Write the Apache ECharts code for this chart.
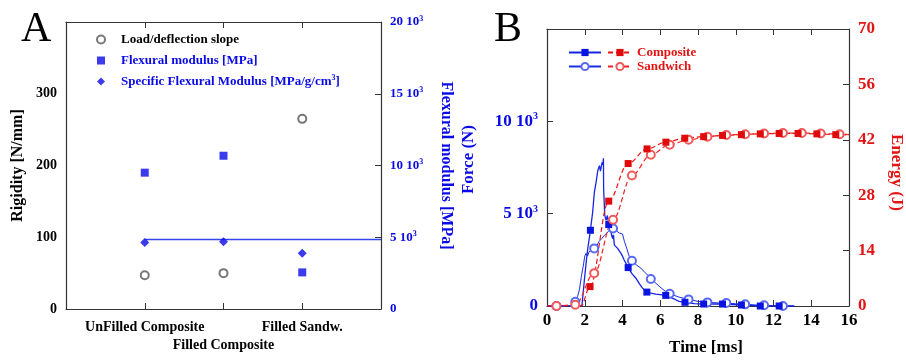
<!DOCTYPE html>
<html><head><meta charset="utf-8">
<script src="https://cdn.jsdelivr.net/npm/echarts@6/dist/echarts.min.js"></script>
<style>html,body{margin:0;padding:0;background:#fff}#c{width:906px;height:361px}</style>
</head><body><div id="c"></div>
<script>
// ---------- Panel A data ----------
const categories = ['UnFilled Composite', 'Filled Composite', 'Filled Sandw.'];
const categoryPos = [1, 2, 3];
const rigidity = [47, 50, 265];                 // N/mm (left axis)
const flexuralModulus = [9500, 10680, 2550];    // MPa (right axis)
const specificModulus = [4630, 4680, 3890];     // MPa/g/cm3 (right axis)
const refLineX = [1, 4];
const refLineY = [4840, 4840];
const rigidityTicks = [0, 100, 200, 300];
const modulusTicks = [0, 5000, 10000, 15000, 20000];

// ---------- Panel B data ----------
const compositeForceTime = [0, 1.85, 1.99, 2.1, 2.16, 2.3, 2.42, 2.51, 2.6, 2.69, 2.78, 2.83, 2.87, 2.92, 2.96, 2.99, 3.0, 3.06, 3.13, 3.2, 3.27, 3.33, 3.39, 3.43, 3.48, 3.52, 3.57, 3.65, 3.74, 3.82, 3.92, 4.0, 4.09, 4.3, 4.5, 4.71, 4.9, 5.06, 5.29, 5.5, 5.76, 6.0, 6.29, 6.5, 6.82, 7.0, 7.31, 7.8, 8.3, 8.8, 9.3, 9.8, 10.3, 10.8, 11.3, 12.3, 13.1];
const compositeForce = [0, 0, 1500, 2600, 3100, 4100, 5090, 6170, 6700, 7330, 7600, 7300, 7240, 7780, 7650, 8000, 6340, 4910, 4640, 4900, 4410, 4300, 4016, 3800, 3656, 3850, 3296, 3400, 3118, 3200, 2850, 2700, 2490, 2080, 1750, 1505, 1200, 968, 753, 700, 645, 620, 575, 480, 340, 250, 200, 130, 107, 110, 107, 80, 54, 30, 0, 0, 0];
const compositeForceMarkers = [2.3, 3.27, 4.3, 5.29, 6.29, 7.31, 8.3, 9.3, 10.3, 11.3, 12.3];

const sandwichForceTime = [0, 0.5, 1.4, 1.5, 1.62, 1.72, 1.82, 1.93, 2.0, 2.07, 2.15, 2.23, 2.35, 2.5, 2.62, 2.74, 2.9, 3.04, 3.17, 3.3, 3.5, 3.6, 3.7, 3.83, 4.0, 4.1, 4.2, 4.36, 4.5, 4.7, 4.97, 5.2, 5.41, 5.5, 5.7, 5.94, 6.2, 6.5, 7.0, 7.5, 8.0, 8.5, 9.0, 9.5, 10.0, 10.5, 11.0, 11.5, 12.0, 12.5, 13.1];
const sandwichForce = [0, 0, 0, 230, 500, 900, 1600, 2220, 2700, 2850, 2700, 2940, 3000, 3120, 3200, 3480, 3650, 3830, 3950, 4100, 4200, 4150, 4050, 3950, 3900, 3500, 3200, 2680, 2446, 2250, 2054, 1800, 1607, 1464, 1300, 1071, 850, 660, 480, 357, 250, 196, 170, 160, 120, 89, 60, 36, 15, 0, 0];
const sandwichForceMarkers = [0.5, 1.5, 2.5, 3.5, 4.5, 5.5, 6.5, 7.5, 8.5, 9.5, 10.5, 11.5, 12.5];

const compositeEnergyTime = [0, 1.8, 2.28, 3.27, 4.3, 5.3, 6.3, 7.3, 8.3, 9.3, 10.3, 11.3, 12.3, 13.3, 14.3, 15.3, 16];
const compositeEnergy = [0, 0, 4.9, 26.5, 36, 39.7, 41.4, 42.4, 42.8, 43.1, 43.3, 43.5, 43.6, 43.6, 43.5, 43.3, 43.2];
const compositeEnergyMarkers = [2.28, 3.27, 4.3, 5.3, 6.3, 7.3, 8.3, 9.3, 10.3, 11.3, 12.3, 13.3, 14.3, 15.3];

const sandwichEnergyTime = [0, 0.5, 1.5, 2.5, 3.5, 4.5, 5.5, 6.5, 7.5, 8.5, 9.5, 10.5, 11.5, 12.5, 13.5, 14.5, 15.5, 16];
const sandwichEnergy = [0, 0, 0.3, 8.3, 21.8, 33, 38.2, 40.75, 42, 42.8, 43.2, 43.4, 43.6, 43.7, 43.7, 43.6, 43.4, 43.3];
const sandwichEnergyMarkers = [0.5, 1.5, 2.5, 3.5, 4.5, 5.5, 6.5, 7.5, 8.5, 9.5, 10.5, 11.5, 12.5, 13.5, 14.5, 15.5];

// ---------- styles ----------
const FONT = '"Liberation Serif", "Times New Roman", serif';
const BLUE = '#0a0ae8';
const RED = '#e31414';
const AXIS = '#333333';

function build(times, vals, markers) {
  return times.map((t, i) => markers.indexOf(t) >= 0 ? { value: [t, vals[i]] } : { value: [t, vals[i]], symbol: 'none' });
}
function supLabel(v) {
  if (v === 0) return '{n|0}';
  return '{n|' + (v / 1000) + ' 10}{s|3}';
}
function supRich(size, color) {
  return {
    n: { fontSize: size, fontWeight: 'bold', fontFamily: FONT, color: color, lineHeight: size + 2 },
    s: { fontSize: Math.round(size * 0.6), fontWeight: 'bold', fontFamily: FONT, color: color, verticalAlign: 'top', lineHeight: size + 2 }
  };
}

const chart = echarts.init(document.getElementById('c'), null, { renderer: 'canvas' });
const axisLine = { show: true, onZero: false, lineStyle: { color: AXIS, width: 1.2 } };

const option = {
  animation: false,
  backgroundColor: '#fff',
  graphic: [
    { type: 'text', left: 21, top: 9, style: { text: 'A', font: '42px ' + FONT, fill: '#000' } },
    { type: 'text', left: 494, top: 9, style: { text: 'B', font: '42px ' + FONT, fill: '#000' } }
  ],
  grid: [
    { left: 66, right: 525, top: 22, bottom: 52 },
    { left: 547, right: 55, top: 29, bottom: 53 }
  ],
  legend: [
    {
      left: 91, top: 27, orient: 'vertical', itemWidth: 8, itemHeight: 8, itemGap: 6,
      textStyle: { fontFamily: FONT, fontWeight: 'bold', fontSize: 13, lineHeight: 15, padding: [0, 0, 0, 11],
        rich: { sup: { fontFamily: FONT, fontWeight: 'bold', fontSize: 8, color: BLUE, verticalAlign: 'top', lineHeight: 15 } } },
      formatter: n => n.indexOf('cm3') >= 0 ? n.replace('cm3]', 'cm{sup|3}]') : n,
      data: [
        { name: 'Load/deflection slope', textStyle: { color: '#000' } },
        { name: 'Flexural modulus [MPa]', textStyle: { color: BLUE } },
        { name: 'Specific Flexural Modulus [MPa/g/cm3]', textStyle: { color: BLUE } }
      ]
    },
    {
      left: 563, top: 41, orient: 'vertical', itemWidth: 32, itemHeight: 9, itemGap: 1,
      textStyle: { fontFamily: FONT, fontSize: 13, lineHeight: 13 },
      formatter: () => ' ',
      data: ['Composite force', 'Sandwich force']
    },
    {
      left: 602, top: 41, orient: 'vertical', itemWidth: 24, itemHeight: 9, itemGap: 1,
      textStyle: { fontFamily: FONT, fontWeight: 'bold', fontSize: 13, lineHeight: 13, color: RED },
      data: ['Composite', 'Sandwich']
    }
  ],
  xAxis: [
    {
      gridIndex: 0, type: 'value', min: 0, max: 4, interval: 1, position: 'bottom',
      axisLine: axisLine, splitLine: { show: false },
      axisTick: { inside: true, length: 6, lineStyle: { color: AXIS } },
      axisLabel: {
        margin: 9, fontFamily: FONT, fontWeight: 'bold', fontSize: 14, color: '#000', lineHeight: 18,
        showMinLabel: true, showMaxLabel: true,
        formatter: v => { const i = categoryPos.indexOf(v); if (i < 0) return ''; return (i === 1 ? '\n' : '') + categories[i]; }
      }
    },
    {
      gridIndex: 0, type: 'value', min: 0, max: 4, interval: 1, position: 'top',
      axisLine: axisLine, splitLine: { show: false },
      axisTick: { inside: true, length: 6, lineStyle: { color: AXIS } }, axisLabel: { show: false }
    },
    {
      gridIndex: 1, type: 'value', min: 0, max: 16, interval: 2, position: 'bottom',
      axisLine: axisLine, splitLine: { show: false },
      axisTick: { inside: true, length: 6, lineStyle: { color: AXIS } },
      axisLabel: { margin: 6, fontFamily: FONT, fontWeight: 'bold', fontSize: 17, color: '#000', showMinLabel: true, showMaxLabel: true },
      name: 'Time [ms]', nameLocation: 'middle', nameGap: 33,
      nameTextStyle: { fontFamily: FONT, fontWeight: 'bold', fontSize: 17, color: '#000', padding: [0, 0, 0, 16] }
    },
    {
      gridIndex: 1, type: 'value', min: 0, max: 16, interval: 2, position: 'top',
      axisLine: axisLine, splitLine: { show: false },
      axisTick: { inside: true, length: 6, lineStyle: { color: AXIS } }, axisLabel: { show: false }
    }
  ],
  yAxis: [
    {
      gridIndex: 0, type: 'value', min: 0, max: 400, interval: 100, position: 'left',
      axisLine: axisLine, splitLine: { show: false }, axisTick: { show: false },
      axisLabel: { margin: 9, fontFamily: FONT, fontWeight: 'bold', fontSize: 14, color: '#000',
        formatter: v => rigidityTicks.indexOf(v) >= 0 ? String(v) : '' },
      name: 'Rigidity [N/mm]', nameLocation: 'middle', nameGap: 40,
      nameTextStyle: { fontFamily: FONT, fontWeight: 'bold', fontSize: 16, color: '#000' }
    },
    {
      gridIndex: 0, type: 'value', min: 0, max: 20000, interval: 5000, position: 'right',
      axisLine: axisLine, splitLine: { show: false },
      axisTick: { inside: true, length: 6, lineStyle: { color: AXIS } },
      axisLabel: { margin: 9, formatter: v => modulusTicks.indexOf(v) >= 0 ? supLabel(v) : '', rich: supRich(13, BLUE), showMaxLabel: true },
      name: 'Flexural modulus [MPa]', nameLocation: 'middle', nameGap: 57, nameRotate: -90,
      nameTextStyle: { fontFamily: FONT, fontWeight: 'bold', fontSize: 16, color: BLUE }
    },
    {
      gridIndex: 1, type: 'value', min: 0, max: 15000, interval: 5000, position: 'left',
      axisLine: axisLine, splitLine: { show: false },
      axisTick: { inside: true, length: 6, lineStyle: { color: AXIS } },
      axisLabel: { margin: 9, formatter: v => v < 15000 ? supLabel(v) : '', rich: supRich(17, BLUE) },
      name: 'Force (N)', nameLocation: 'middle', nameGap: 70,
      nameTextStyle: { fontFamily: FONT, fontWeight: 'bold', fontSize: 17, color: BLUE, padding: [0, 0, 0, 16] }
    },
    {
      gridIndex: 1, type: 'value', min: 0, max: 70, interval: 14, position: 'right',
      axisLine: axisLine, splitLine: { show: false },
      axisTick: { inside: true, length: 6, lineStyle: { color: AXIS } },
      axisLabel: { margin: 9, fontFamily: FONT, fontWeight: 'bold', fontSize: 17, color: RED, showMaxLabel: true },
      name: 'Energy (J)', nameLocation: 'middle', nameGap: 39, nameRotate: -90,
      nameTextStyle: { fontFamily: FONT, fontWeight: 'bold', fontSize: 17, color: RED, padding: [0, 0, 0, 10] }
    }
  ],
  series: [
    {
      type: 'line', name: 'ref', xAxisIndex: 0, yAxisIndex: 1, symbol: 'none', silent: true, z: 1,
      lineStyle: { color: '#3344ee', width: 1.5 },
      data: refLineX.map((x, i) => [x, refLineY[i]])
    },
    {
      type: 'scatter', name: 'Load/deflection slope', xAxisIndex: 0, yAxisIndex: 0,
      symbol: 'emptyCircle', symbolSize: 8, itemStyle: { color: '#555', borderWidth: 1 },
      data: categoryPos.map((x, i) => [x, rigidity[i]])
    },
    {
      type: 'scatter', name: 'Flexural modulus [MPa]', xAxisIndex: 0, yAxisIndex: 1,
      symbol: 'rect', symbolSize: 8, itemStyle: { color: BLUE },
      data: categoryPos.map((x, i) => [x, flexuralModulus[i]])
    },
    {
      type: 'scatter', name: 'Specific Flexural Modulus [MPa/g/cm3]', xAxisIndex: 0, yAxisIndex: 1,
      symbol: 'diamond', symbolSize: 9, itemStyle: { color: BLUE },
      data: categoryPos.map((x, i) => [x, specificModulus[i]])
    },
    {
      type: 'line', name: 'Sandwich force', xAxisIndex: 2, yAxisIndex: 2,
      symbol: 'emptyCircle', symbolSize: 8, showAllSymbol: true,
      lineStyle: { color: '#1a2ee0', width: 1 }, itemStyle: { color: '#5a6af0', borderWidth: 0.8 },
      data: build(sandwichForceTime, sandwichForce, sandwichForceMarkers)
    },
    {
      type: 'line', name: 'Composite force', xAxisIndex: 2, yAxisIndex: 2,
      symbol: 'rect', symbolSize: 7, showAllSymbol: true,
      lineStyle: { color: '#1424e0', width: 1.3 }, itemStyle: { color: '#0a14e0' },
      data: build(compositeForceTime, compositeForce, compositeForceMarkers)
    },
    {
      type: 'line', name: 'Sandwich', xAxisIndex: 2, yAxisIndex: 3,
      symbol: 'emptyCircle', symbolSize: 8, showAllSymbol: true, smooth: 0.35, smoothMonotone: 'x',
      lineStyle: { color: '#ee2222', width: 1.2, type: [5, 3] }, itemStyle: { color: '#f05a5a', borderWidth: 0.8 },
      data: build(sandwichEnergyTime, sandwichEnergy, sandwichEnergyMarkers)
    },
    {
      type: 'line', name: 'Composite', xAxisIndex: 2, yAxisIndex: 3,
      symbol: 'rect', symbolSize: 7, showAllSymbol: true, smooth: 0.35, smoothMonotone: 'x',
      lineStyle: { color: '#ee1111', width: 1.2, type: [5, 3] }, itemStyle: { color: '#e00a0a' },
      data: build(compositeEnergyTime, compositeEnergy, compositeEnergyMarkers)
    }
  ]
};
chart.setOption(option);
</script>
</body></html>
